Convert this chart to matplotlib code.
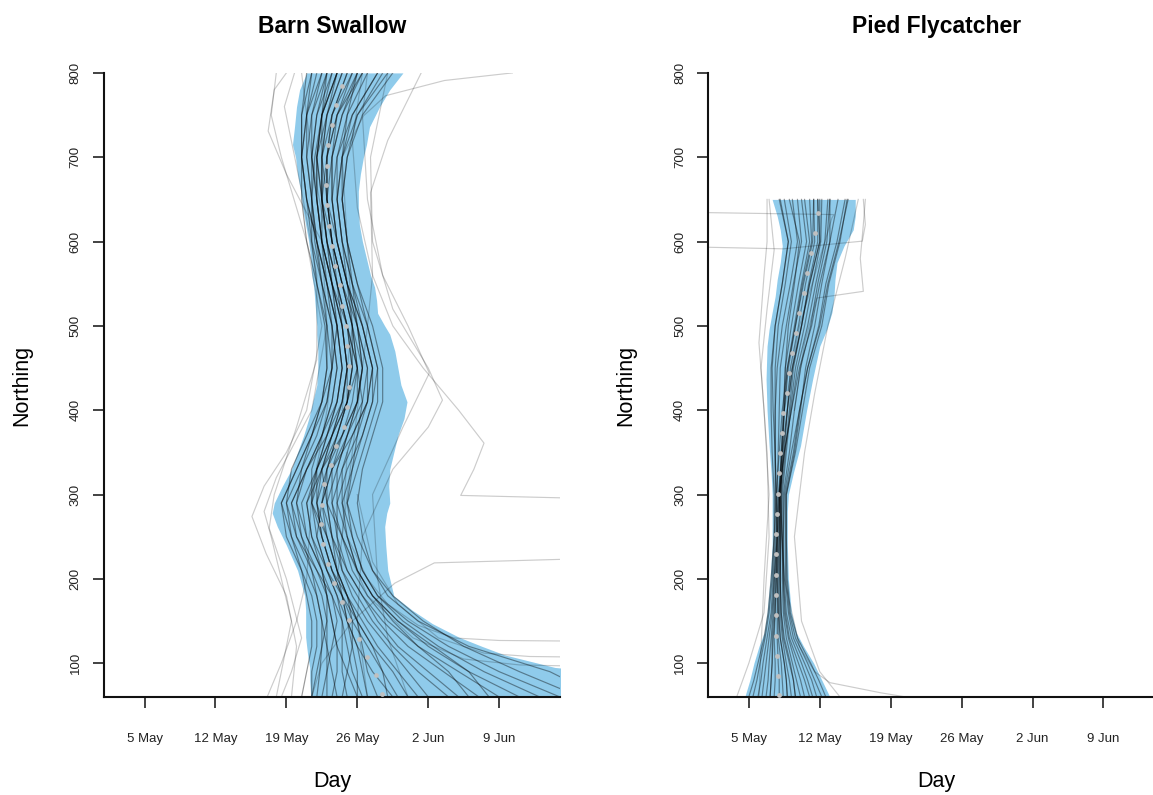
import matplotlib
matplotlib.use("Agg")
import matplotlib.pyplot as plt

plt.rcParams['font.family'] = ['Liberation Sans', 'DejaVu Sans']

# x axis: day of year (5 May = 125)
day_ticks = [125, 132, 139, 146, 153, 160]
day_labels = ["5 May", "12 May", "19 May", "26 May", "2 Jun", "9 Jun"]
north_ticks = [100, 200, 300, 400, 500, 600, 700, 800]

# ---------------- Barn Swallow ----------------
bs_band_N = [60, 80, 90, 95, 110, 120, 131, 147, 163, 180, 210, 240, 262, 278, 290, 310, 330, 350,
             370, 390, 410, 430, 450, 470, 490, 500, 515, 530, 546, 560, 580, 600, 620, 640, 660,
             680, 700, 715, 736, 760, 780, 800]
bs_band_lo = [141.4, 141.3, 141.3, 141.3, 141.1, 141.0, 140.9, 140.9, 140.9, 140.8, 140.1, 139.0,
              138.1, 137.6, 137.8, 138.6, 139.5, 140.1, 140.7, 141.2, 141.6, 142.0, 142.1, 142.1,
              142.0, 142.0, 141.9, 141.8, 141.7, 141.5, 141.4, 141.2, 140.9, 140.6, 140.4, 140.1,
              139.9, 139.6, 139.8, 140.0, 140.3, 141.0]
bs_band_hi = [172.0, 172.0, 170.0, 165.5, 160.5, 158.3, 156.0, 153.4, 151.4, 149.6, 149.0, 148.8,
              148.7, 148.9, 149.2, 149.1, 149.2, 149.6, 150.0, 150.6, 150.9, 150.3, 150.0, 149.7,
              149.2, 148.7, 148.0, 147.9, 147.7, 147.3, 146.9, 146.5, 146.2, 146.1, 146.1, 146.3,
              146.6, 146.9, 147.2, 148.2, 149.2, 150.5]

bs_med_N = [63, 85.5, 107, 129, 151, 173, 195, 218, 241, 265, 288, 312, 335, 358, 380, 404, 428,
            452, 476, 500, 524, 548, 571, 595, 619, 643, 667, 690, 715, 738, 762, 785]
bs_med_day = [148.4, 147.8, 147.0, 146.2, 145.2, 144.5, 143.7, 143.1, 142.6, 142.4, 142.5, 142.7,
              143.4, 143.9, 144.7, 145.0, 145.2, 145.2, 145.0, 144.9, 144.5, 144.3, 143.8, 143.5,
              143.2, 143.0, 142.9, 143.0, 143.1, 143.5, 143.9, 144.5]

bs_grid_N = [60, 90, 120, 150, 180, 210, 250, 290, 330, 370, 410, 450, 500, 550, 600, 650, 700, 750, 800]
bs_lines = [
    [142.0, 142.3, 142.5, 142.5, 142.0, 141.0, 139.5, 138.5, 140.0, 141.5, 142.5, 143.0, 142.8, 142.0, 141.0, 140.5, 140.5, 141.0, 142.0],
    [144.0, 143.5, 143.0, 142.5, 142.0, 141.5, 140.5, 140.0, 141.0, 142.5, 143.5, 144.0, 143.5, 142.5, 141.8, 141.5, 141.8, 142.5, 144.0],
    [146.0, 145.0, 144.0, 143.5, 143.0, 142.5, 141.5, 141.0, 142.0, 143.5, 144.5, 145.0, 144.5, 143.5, 142.5, 142.0, 142.0, 143.0, 144.5],
    [150.0, 148.5, 147.0, 145.5, 144.5, 143.5, 142.5, 142.0, 143.0, 144.0, 145.0, 145.5, 145.0, 144.0, 143.0, 142.5, 142.5, 143.5, 145.5],
    [155.0, 152.0, 149.5, 147.5, 146.0, 144.5, 143.5, 143.0, 144.0, 145.0, 146.0, 146.5, 146.0, 145.0, 144.0, 143.5, 143.5, 144.5, 146.5],
    [162.0, 157.0, 153.0, 150.0, 147.5, 146.0, 145.0, 144.5, 145.5, 146.5, 147.5, 147.5, 146.5, 145.5, 144.5, 144.0, 144.0, 145.0, 147.0],
    [170.0, 165.0, 157.0, 152.0, 149.0, 147.5, 146.5, 146.0, 146.5, 147.5, 148.5, 148.5, 147.5, 146.0, 145.0, 144.5, 145.0, 146.0, 148.5],
    [147.0, 146.5, 146.0, 145.0, 144.0, 143.0, 142.0, 142.5, 143.5, 145.0, 146.5, 147.0, 146.0, 144.5, 143.5, 143.0, 143.5, 144.5, 146.0],
    [140.5, 141.0, 141.5, 141.5, 141.0, 140.5, 139.5, 139.0, 140.5, 142.0, 143.0, 143.5, 143.5, 143.0, 142.5, 142.0, 141.5, 141.5, 142.5],
    [143.0, 143.0, 143.5, 144.0, 143.5, 142.5, 141.0, 140.0, 140.5, 141.5, 142.5, 143.0, 143.0, 142.5, 142.0, 141.0, 140.5, 140.5, 141.5],
    [152.0, 150.0, 148.0, 146.5, 145.0, 144.0, 143.0, 142.5, 143.0, 144.5, 146.0, 146.5, 145.5, 144.5, 143.5, 143.0, 143.0, 144.0, 146.0],
    [158.0, 154.5, 151.0, 148.5, 146.5, 145.0, 144.0, 143.5, 144.5, 146.0, 147.0, 147.0, 146.0, 145.0, 144.5, 144.0, 144.5, 145.5, 148.0],
    [149.0, 148.5, 147.5, 146.0, 145.0, 144.0, 143.0, 141.5, 142.0, 143.5, 145.0, 145.5, 145.0, 144.0, 143.0, 142.5, 142.5, 143.0, 144.5],
    [145.0, 144.5, 144.5, 144.5, 144.0, 143.0, 142.0, 141.5, 142.5, 144.0, 145.0, 145.5, 145.5, 145.0, 144.0, 143.5, 143.5, 144.0, 145.5],
    [166.0, 160.0, 155.0, 151.0, 148.0, 146.5, 145.5, 145.0, 145.5, 146.0, 146.5, 146.0, 145.0, 144.0, 143.0, 142.5, 142.5, 143.0, 144.0],
    [141.5, 142.0, 142.5, 143.0, 143.0, 142.5, 141.0, 140.5, 142.0, 143.0, 144.0, 144.5, 144.0, 143.0, 142.0, 141.5, 141.0, 141.5, 143.0],
    [153.0, 151.0, 149.0, 147.0, 145.5, 144.5, 144.0, 144.0, 145.0, 146.5, 147.5, 148.0, 147.0, 145.5, 144.5, 144.0, 144.5, 146.0, 149.0],
    [146.5, 145.5, 145.0, 144.5, 143.5, 142.0, 140.5, 139.5, 141.0, 142.5, 144.0, 144.5, 144.0, 143.0, 142.0, 141.5, 141.5, 142.0, 143.0],
    [160.0, 156.0, 152.0, 149.0, 147.0, 145.5, 144.5, 143.5, 143.5, 144.5, 145.5, 146.0, 145.5, 144.5, 143.5, 143.0, 143.0, 143.5, 145.0],
    [144.5, 145.0, 145.5, 145.5, 145.0, 144.0, 143.0, 142.0, 142.5, 143.5, 144.5, 145.0, 144.5, 143.5, 142.5, 142.0, 141.5, 142.0, 143.5],
    [168.0, 162.0, 156.5, 152.5, 149.5, 147.5, 146.0, 145.0, 146.0, 147.0, 148.0, 148.0, 147.0, 146.0, 145.0, 144.5, 144.5, 145.0, 146.0],
    [148.0, 147.0, 146.5, 146.0, 145.0, 143.5, 142.5, 142.0, 142.0, 143.0, 144.0, 144.5, 144.0, 143.0, 142.0, 141.0, 140.5, 140.5, 141.0],
    [156.0, 153.0, 150.0, 148.0, 146.5, 145.0, 143.5, 142.5, 143.5, 145.5, 147.0, 147.5, 146.5, 145.0, 144.0, 143.5, 144.0, 145.5, 148.0],
    [142.5, 143.0, 143.0, 143.0, 142.5, 141.5, 140.0, 139.5, 141.0, 143.0, 144.5, 145.0, 144.5, 143.5, 142.5, 142.0, 142.0, 142.5, 143.5],
    [151.0, 149.5, 147.5, 146.0, 144.5, 143.0, 141.5, 141.0, 142.5, 144.5, 146.0, 146.0, 145.0, 143.5, 142.5, 142.5, 143.0, 144.0, 146.5],
    [143.5, 144.0, 144.0, 143.5, 143.0, 142.0, 140.0, 139.0, 139.5, 141.0, 142.5, 143.5, 144.0, 143.5, 143.0, 142.5, 142.0, 142.5, 144.0],
    [164.0, 158.5, 154.0, 150.5, 148.0, 146.5, 145.5, 144.5, 144.5, 145.5, 147.0, 147.5, 146.5, 145.0, 144.0, 143.0, 142.5, 142.5, 143.0],
    [146.0, 146.0, 145.5, 145.0, 144.5, 143.5, 142.5, 141.5, 141.5, 142.5, 143.5, 144.0, 143.5, 142.5, 141.5, 141.0, 140.5, 141.0, 142.5],
    [157.0, 155.0, 152.0, 149.5, 147.5, 146.0, 145.0, 144.0, 144.0, 145.0, 146.0, 146.5, 146.0, 145.5, 145.0, 144.5, 145.0, 146.5, 149.5],
    [141.5, 141.5, 142.0, 142.0, 141.5, 140.5, 139.0, 138.5, 140.0, 141.5, 143.0, 143.5, 143.0, 142.0, 141.5, 141.5, 141.0, 141.0, 141.5],
    [149.5, 147.5, 146.0, 145.0, 144.5, 144.0, 143.5, 143.0, 143.0, 144.0, 145.0, 145.0, 144.5, 144.0, 143.5, 143.0, 143.0, 143.5, 145.0],
    [159.0, 157.0, 153.5, 150.0, 147.5, 146.0, 144.5, 143.0, 142.5, 143.5, 145.0, 146.0, 145.5, 144.5, 143.5, 142.5, 142.0, 142.5, 144.0],
]

# stray trajectories: (northing, day) pairs
bs_stray_N = [
    [800, 720, 640, 560, 500, 450, 400, 361, 330, 299, 295],
    [60, 150, 250, 330, 380, 412, 450, 520, 600, 700, 800],
    [60, 130, 200, 300, 380, 444, 500, 560, 650, 750, 800],
    [400, 500, 600, 700, 749, 773, 791, 800],
    [200, 300, 400, 500, 560, 658, 720, 800],
    [60, 100, 150, 195, 219, 224.5],
    [250, 200, 170, 145, 130, 127, 126],
    [300, 220, 170, 130, 112, 108, 107],
    [350, 250, 180, 130, 105, 98, 96],
    [60, 120, 180, 230, 274, 310, 350, 400, 500, 600, 700, 750, 800],
    [60, 150, 250, 280, 320, 400, 500, 600, 680, 731, 780, 800],
    [60, 100, 150, 200, 300, 400, 500, 600, 700, 800],
    [60, 90, 130, 200, 260, 300, 380, 460, 560, 660, 760, 800],
]
bs_stray_day = [
    [146.5, 145.5, 146.0, 147.5, 149.5, 152.5, 156.0, 158.5, 157.5, 156.2, 170.0],
    [147.0, 146.0, 146.5, 149.5, 153.0, 154.4, 153.0, 149.5, 147.5, 147.3, 149.0],
    [151.0, 149.0, 148.0, 147.5, 150.5, 153.1, 151.0, 148.5, 147.0, 146.5, 147.0],
    [144.5, 145.5, 145.0, 144.5, 146.6, 148.8, 154.6, 161.3],
    [144.0, 145.0, 146.0, 147.0, 147.5, 147.3, 149.0, 152.3],
    [141.5, 142.5, 145.5, 149.7, 153.6, 170.0],
    [145.0, 147.0, 149.0, 152.0, 155.5, 160.0, 170.0],
    [146.0, 147.5, 150.0, 154.0, 158.5, 163.0, 170.0],
    [145.0, 144.5, 147.0, 151.5, 156.5, 162.0, 170.0],
    [139.5, 140.0, 139.0, 137.0, 135.6, 136.8, 139.0, 141.0, 142.5, 141.0, 138.5, 137.5, 138.0],
    [138.0, 139.5, 137.5, 136.8, 138.0, 141.5, 143.0, 142.5, 139.0, 137.2, 137.8, 139.0],
    [137.1, 138.5, 140.0, 141.0, 141.5, 143.0, 144.0, 143.0, 141.5, 140.5],
    [138.5, 139.5, 140.5, 139.0, 137.3, 137.8, 140.0, 142.0, 142.0, 140.5, 138.8, 139.8],
]

# ---------------- Pied Flycatcher ----------------
pf_band_N = [60, 80, 100, 120, 136, 160, 200, 240, 280, 300, 326, 358, 400, 437, 476, 496, 516,
             535, 555, 575, 595, 614, 630, 650]
pf_band_lo = [124.6, 125.1, 125.5, 126.0, 126.5, 126.8, 127.1, 127.3, 127.3, 127.3, 127.2, 127.0,
              126.8, 126.7, 126.8, 127.0, 127.3, 127.6, 127.8, 128.1, 128.3, 128.1, 127.8, 127.3]
pf_band_hi = [133.0, 132.2, 131.4, 130.4, 129.7, 129.2, 128.9, 128.8, 128.8, 128.9, 129.4, 130.1,
              130.7, 131.3, 132.0, 132.7, 133.2, 133.4, 133.5, 133.7, 134.4, 135.3, 135.5, 135.5]

pf_med_N = [62.6, 85, 108.8, 132.5, 156.7, 180.7, 204.8, 229.3, 253, 277, 301, 325, 349.3, 373.4,
            397, 420.8, 444.5, 468.2, 492, 515.6, 539.3, 563, 586.7, 610.4, 634]
pf_med_day = [128.0, 127.9, 127.8, 127.7, 127.7, 127.7, 127.7, 127.7, 127.7, 127.8, 127.9, 128.0,
              128.1, 128.3, 128.4, 128.8, 129.0, 129.3, 129.7, 130.0, 130.4, 130.7, 131.1, 131.5, 131.8]

pf_grid_N = [60, 80, 100, 130, 160, 200, 250, 300, 350, 400, 450, 500, 550, 600, 650]
pf_lines = [
    [125.4, 125.8, 126.1, 126.6, 127.0, 127.3, 127.5, 127.5, 127.3, 127.2, 127.2, 127.6, 128.3, 128.9, 128.1],
    [127.1, 127.2, 127.3, 127.3, 127.5, 127.6, 127.8, 127.8, 127.9, 128.0, 128.1, 128.7, 129.4, 130.2, 129.8],
    [128.8, 128.7, 128.5, 128.1, 128.0, 128.0, 128.1, 128.1, 128.5, 128.8, 129.1, 129.9, 130.6, 131.5, 131.4],
    [130.5, 130.1, 129.6, 128.9, 128.5, 128.4, 128.4, 128.4, 129.0, 129.5, 130.1, 131.1, 131.8, 132.7, 133.0],
    [132.2, 131.5, 130.8, 129.6, 129.0, 128.7, 128.7, 128.7, 129.6, 130.3, 131.0, 132.2, 132.9, 134.0, 134.7],
    [126.3, 126.5, 126.7, 127.0, 127.3, 127.5, 127.8, 128.0, 128.5, 129.2, 130.0, 131.2, 132.0, 133.0, 133.8],
    [131.3, 130.8, 130.2, 129.2, 128.7, 128.5, 128.3, 128.1, 128.2, 128.5, 128.6, 128.9, 129.5, 130.0, 129.0],
    [128.0, 128.0, 127.9, 127.8, 127.8, 127.8, 128.0, 128.1, 128.4, 128.8, 129.3, 130.2, 131.0, 132.0, 132.0],
    [129.6, 129.4, 129.1, 128.5, 128.2, 128.1, 128.1, 128.0, 128.2, 128.4, 128.6, 129.2, 129.9, 130.7, 130.2],
    [125.0, 125.5, 125.9, 126.5, 126.9, 127.2, 127.5, 127.7, 128.0, 128.3, 128.8, 129.6, 130.4, 131.3, 131.4],
    [132.6, 131.9, 131.1, 129.8, 129.1, 128.8, 128.7, 128.7, 129.5, 130.1, 130.6, 131.5, 132.2, 133.0, 133.0],
    [125.9, 126.2, 126.4, 126.8, 127.2, 127.4, 127.6, 127.6, 127.6, 127.6, 127.8, 128.3, 129.1, 129.8, 129.3],
    [128.4, 128.3, 128.2, 127.9, 127.9, 127.9, 128.0, 128.0, 128.3, 128.5, 128.9, 129.6, 130.3, 131.2, 131.0],
    [130.1, 129.7, 129.3, 128.7, 128.4, 128.3, 128.4, 128.5, 129.2, 130.0, 130.8, 132.0, 132.8, 133.9, 134.8],
    [127.5, 127.6, 127.6, 127.5, 127.6, 127.7, 127.8, 127.7, 127.6, 127.6, 127.6, 127.9, 128.6, 129.2, 128.5],
    [129.2, 129.0, 128.7, 128.3, 128.1, 128.1, 128.1, 128.2, 128.6, 129.0, 129.4, 130.2, 130.9, 131.8, 131.8],
    [126.7, 126.9, 127.0, 127.2, 127.4, 127.5, 127.7, 127.9, 128.3, 128.8, 129.3, 130.2, 131.0, 132.0, 131.8],
    [131.0, 130.5, 129.9, 129.0, 128.6, 128.4, 128.3, 128.2, 128.3, 128.5, 128.8, 129.5, 130.2, 131.0, 130.5],
    [128.8, 128.7, 128.5, 128.1, 127.9, 127.8, 127.8, 127.7, 127.6, 127.4, 127.3, 127.6, 128.3, 128.9, 128.0],
    [131.7, 131.2, 130.5, 129.4, 128.9, 128.6, 128.6, 128.6, 129.4, 130.0, 130.8, 131.9, 132.6, 133.7, 134.5],
    [127.1, 127.2, 127.3, 127.4, 127.6, 127.7, 127.9, 128.0, 128.5, 129.2, 129.8, 130.8, 131.6, 132.5, 132.8],
    [129.6, 129.4, 129.0, 128.4, 128.2, 128.1, 128.2, 128.3, 128.7, 129.1, 129.6, 130.5, 131.3, 132.1, 132.2],
]

pf_stray_N = [
    [400, 500, 560, 600, 628, 632, 636],
    [595.5, 591.4, 600.5, 620, 650],
    [400, 480, 533, 541, 580, 620, 650],
    [60, 200, 300, 400, 480, 560, 600, 650],
    [300, 200, 120, 90, 77, 65, 57],
    [60, 100, 160, 250, 350, 450, 520, 590, 650],
    [60, 90, 150, 250, 350, 420, 500, 580, 650],
]
pf_stray_day = [
    [128.5, 130.0, 131.5, 132.5, 133.2, 133.4, 112.0],
    [112.0, 128.4, 136.2, 136.5, 136.3],
    [129.5, 130.5, 131.7, 136.3, 136.0, 136.3, 136.5],
    [126.0, 126.5, 127.0, 126.5, 126.0, 126.5, 126.8, 126.8],
    [128.0, 128.5, 130.0, 131.5, 133.0, 138.0, 142.0],
    [123.8, 125.0, 126.5, 127.0, 126.8, 126.2, 126.8, 127.5, 127.0],
    [134.0, 132.0, 130.2, 129.5, 130.5, 131.5, 132.8, 134.5, 135.8],
]


def draw_panel(ax, title, band_N, band_lo, band_hi, grid_N, lines, stray_N, stray_day, med_N, med_day):
    ax.fill_betweenx(band_N, band_lo, band_hi, color='#8fcbeb', lw=0, zorder=1)
    for days in lines:
        ax.plot(days, grid_N, color='black', alpha=0.4, lw=0.85, zorder=2)
    for n, d in zip(stray_N, stray_day):
        ax.plot(d, n, color='black', alpha=0.2, lw=0.85, zorder=2)
    ax.scatter(med_day, med_N, s=12, color='#c0c0c0', lw=0, zorder=3)

    ax.set_xlim(121, 166)
    ax.set_ylim(60, 800)
    ax.set_xticks(day_ticks)
    ax.set_xticklabels(day_labels)
    ax.set_yticks(north_ticks)
    ax.set_yticklabels([str(v) for v in north_ticks], rotation=90, va='center')
    for s in ['top', 'right']:
        ax.spines[s].set_visible(False)
    for s in ['left', 'bottom']:
        ax.spines[s].set_linewidth(1.5)
        ax.spines[s].set_color('#111111')
    ax.tick_params(axis='x', length=8, width=1.2, pad=18, labelsize=9.5, colors='#222222')
    ax.tick_params(axis='y', length=8, width=1.2, pad=8, labelsize=9.5, colors='#222222')
    ax.set_title(title, fontsize=16.5, fontweight='bold', pad=29)
    ax.set_xlabel('Day', fontsize=15.5, labelpad=19)
    ax.set_ylabel('Northing', fontsize=15.5, labelpad=27)


fig = plt.figure(figsize=(11.53, 7.95), dpi=100)
ax1 = fig.add_axes([0.0902, 0.1233, 0.3955, 0.785])
ax2 = fig.add_axes([0.6143, 0.1233, 0.3955, 0.785])

draw_panel(ax1, 'Barn Swallow', bs_band_N, bs_band_lo, bs_band_hi, bs_grid_N, bs_lines,
           bs_stray_N, bs_stray_day, bs_med_N, bs_med_day)
draw_panel(ax2, 'Pied Flycatcher', pf_band_N, pf_band_lo, pf_band_hi, pf_grid_N, pf_lines,
           pf_stray_N, pf_stray_day, pf_med_N, pf_med_day)

fig.savefig('out.png', dpi=100)
